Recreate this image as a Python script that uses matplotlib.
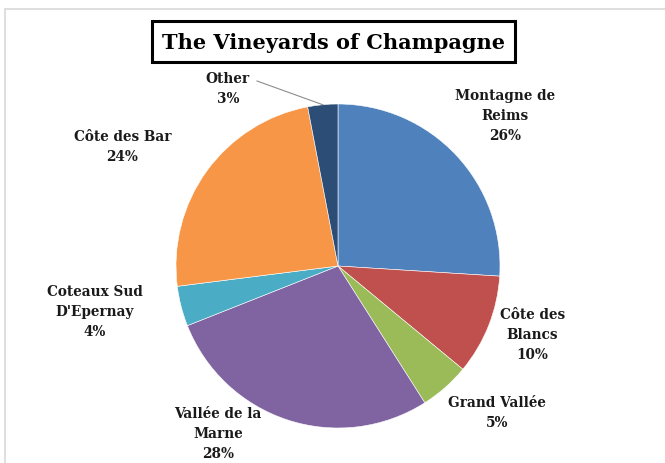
import numpy as np
from matplotlib import pyplot as plt
from matplotlib.patches import Rectangle

# Data (percent of vineyard area)
regions = ["Montagne de\nReims", "Côte des\nBlancs", "Grand Vallée", "Vallée de la\nMarne",
           "Coteaux Sud\nD'Epernay", "Côte des Bar", "Other"]
shares = [26, 10, 5, 28, 4, 24, 3]
colors = ["#4F81BD", "#C0504D", "#9BBB59", "#8064A2", "#4BACC6", "#F79646", "#2C4D75"]

# label anchors, in units of the pie radius (layout only)
label_pos = [(1.03, 0.93), (1.20, -0.42), (0.98, -0.90), (-0.74, -1.03),
             (-1.50, -0.28), (-1.33, 0.74), (-0.68, 1.10)]

W, H = 665, 464
cx, cy, r = 338, 197, 162  # pie centre (from bottom) and radius in pixels

fig = plt.figure(figsize=(W / 100, H / 100), dpi=100)
ax = fig.add_axes([0, 0, 1, 1])

# light chart-area border
fig.patches.append(Rectangle((5 / W, -0.1), 1.2, 1 - 10 / H + 0.1, transform=fig.transFigure,
                             fill=False, edgecolor="#d9d9d9", linewidth=1.2))

wedges, _ = ax.pie(shares, colors=colors, startangle=90, counterclock=False, radius=1,
                   wedgeprops=dict(edgecolor="white", linewidth=0.4))
ax.set_aspect("auto")
ax.set_xlim(-cx / r, (W - cx) / r)
ax.set_ylim(-cy / r, (H - cy) / r)
ax.axis("off")

for name, s, (x, y) in zip(regions, shares, label_pos):
    ax.text(x, y, f"{name}\n{s}%", ha="center", va="center", fontsize=9.8,
            fontweight="bold", family="DejaVu Serif", color="#1a1a1a", linespacing=1.55)

# leader line for the small "Other" slice
w = wedges[-1]
mid = np.deg2rad((w.theta1 + w.theta2) / 2)
ax.plot([-0.50, np.cos(mid) * 1.0], [1.142, np.sin(mid) * 1.0], color="#8c8c8c", lw=0.8)

# boxed title
fig.patches.append(Rectangle((152 / W, 1 - 63 / H), (515 - 152) / W, 41 / H,
                             transform=fig.transFigure, fill=False, edgecolor="black", linewidth=2.2))
fig.text(334 / W, 1 - 43 / H, "The Vineyards of Champagne", ha="center", va="center",
         fontsize=15, fontweight="bold", family="DejaVu Serif")

fig.savefig("out.png", dpi=100)
